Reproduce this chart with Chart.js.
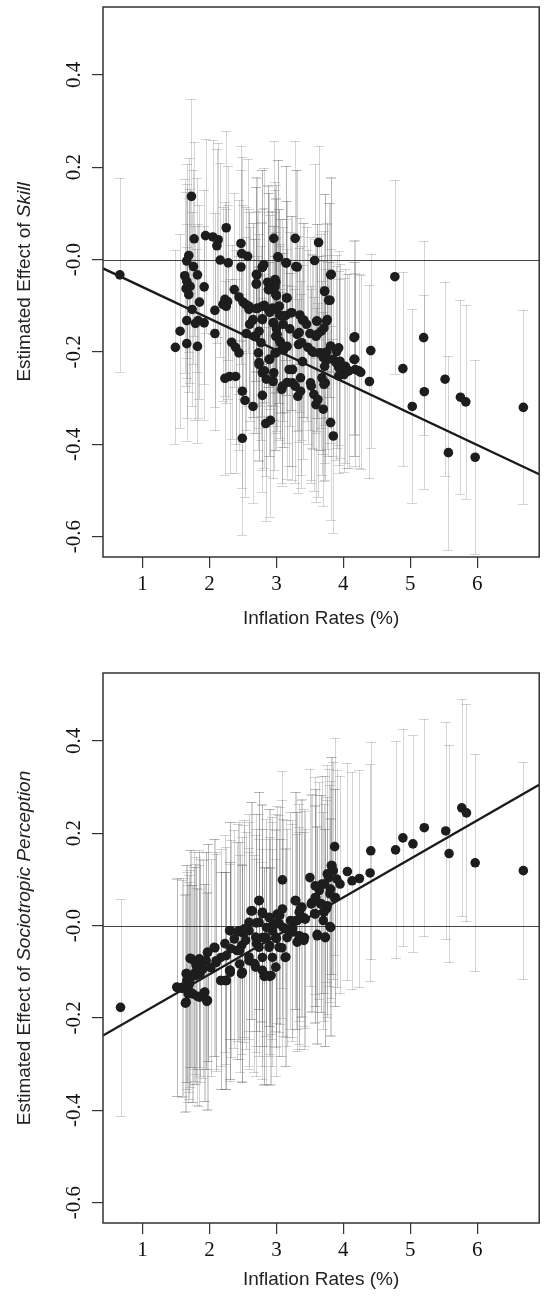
<!DOCTYPE html>
<html>
<head>
<meta charset="utf-8">
<script src="https://cdn.jsdelivr.net/npm/chart.js@4.4.0/dist/chart.umd.min.js"></script>
<style>
  html, body { margin: 0; padding: 0; background: #fff; }
  .panel { position: relative; width: 544px; height: 653px; }
</style>
</head>
<body>
<div class="panel"><canvas id="skillChart" width="544" height="653"></canvas></div>
<div class="panel"><canvas id="socioChart" width="544" height="653"></canvas></div>
<script>
// axes
const xTicks = [1, 2, 3, 4, 5, 6];
const yTicks = [-0.6, -0.4, -0.2, 0, 0.2, 0.4];
const yTickLabels = ['-0.6', '-0.4', '-0.2', '-0.0', '0.2', '0.4'];
const xRange = [0.408, 6.927];
const yRange = [-0.644, 0.547];

// top panel: effect of skill
const skillX = [0.66, 1.73, 1.77, 1.69, 1.66, 1.76, 1.82, 1.63, 1.66, 1.71, 1.65, 1.69, 1.92, 1.85, 1.74, 1.66, 1.83, 1.92,
  1.94, 2.05, 2.13, 2.11, 2.16, 2.25, 2.28, 2.08, 2.23, 2.20, 2.27, 2.25, 2.37, 2.47, 2.47, 2.48, 2.57, 2.44, 2.50, 2.54,
  2.59, 2.70, 2.65, 2.71, 2.70, 2.81, 2.79, 2.79, 2.79, 2.87, 2.88, 2.99, 2.98, 3.00, 2.96, 3.02, 2.88, 2.98, 3.04, 2.95,
  3.05, 3.14, 3.16, 3.14, 3.22, 3.28, 3.29, 3.41, 3.57, 3.63, 3.60, 3.72, 3.80, 3.81, 3.75, 4.77, 1.49, 1.56, 1.66, 1.82,
  1.79, 2.08, 2.33, 2.44, 2.39, 2.23, 2.30, 2.39, 2.49, 2.53, 2.65, 2.79, 2.49, 2.84, 2.91, 2.67, 2.73, 2.74, 2.79, 2.85,
  2.95, 2.90, 2.98, 3.01, 3.05, 3.08, 3.16, 3.08, 3.16, 3.24, 3.28, 3.32, 3.36, 3.31, 3.33, 3.39, 3.47, 3.55, 3.59, 3.67,
  3.52, 3.56, 3.62, 3.59, 3.70, 3.64, 3.70, 3.75, 3.72, 3.73, 3.81, 3.85, 3.85, 3.90, 3.95, 3.93, 4.01, 4.06, 4.16, 4.16,
  4.18, 4.26, 4.41, 4.39, 4.89, 5.03, 5.20, 5.21, 5.52, 5.57, 5.75, 5.83, 5.97, 6.69, 3.10, 3.20, 3.45, 3.50, 3.35, 3.00,
  2.60, 2.55,
  3.03, 3.15, 3.31, 3.82, 2.79, 2.70, 2.70, 2.88, 2.98, 2.89, 2.99, 3.15, 3.72, 3.78, 2.59, 2.72, 2.82, 2.94, 3.04, 2.90,
  3.09, 3.23, 2.65, 2.79, 2.96, 3.39, 3.61, 3.76, 3.71, 3.61, 3.34, 3.38, 2.74, 2.69, 2.77, 2.99, 3.06, 3.11, 2.99, 2.89,
  2.74, 2.82, 2.96, 3.19, 3.36, 3.51, 3.53, 3.66, 3.81, 3.93, 3.77, 3.89, 4.03, 4.08, 4.23, 4.17, 4.17, 3.68, 3.93, 3.24,
  3.71, 3.09];
const skillY = [-0.033, 0.137, 0.045, 0.009, -0.003, -0.015, -0.033, -0.035, -0.047, -0.058, -0.063, -0.076, -0.059, -0.092, -0.108, -0.132, -0.132, -0.137,
  0.052, 0.049, 0.043, 0.030, -0.001, 0.069, -0.007, -0.110, -0.086, -0.097, -0.091, -0.101, -0.065, -0.016, 0.035, 0.013, 0.007, -0.081, -0.092, -0.097,
  -0.108, -0.106, -0.131, -0.033, -0.053, -0.011, -0.017, -0.101, -0.128, -0.049, -0.065, -0.049, -0.059, -0.078, 0.046, 0.006, -0.108, -0.108, -0.101, -0.137,
  -0.121, -0.007, -0.083, -0.121, -0.115, 0.046, -0.015, -0.131, -0.002, 0.037, -0.133, -0.069, -0.088, -0.033, -0.133, -0.037, -0.190, -0.155, -0.182, -0.188,
  -0.138, -0.160, -0.179, -0.202, -0.190, -0.257, -0.253, -0.253, -0.285, -0.305, -0.318, -0.294, -0.387, -0.355, -0.348, -0.166, -0.202, -0.227, -0.245, -0.259,
  -0.264, -0.216, -0.202, -0.162, -0.177, -0.195, -0.188, -0.281, -0.266, -0.238, -0.274, -0.296, -0.285, -0.162, -0.184, -0.221, -0.190, -0.201, -0.166, -0.155,
  -0.274, -0.292, -0.303, -0.314, -0.324, -0.202, -0.212, -0.200, -0.231, -0.267, -0.353, -0.382, -0.216, -0.199, -0.220, -0.234, -0.249, -0.242, -0.169, -0.216,
  -0.238, -0.244, -0.197, -0.264, -0.236, -0.318, -0.169, -0.286, -0.259, -0.418, -0.298, -0.308, -0.428, -0.320, -0.140, -0.150, -0.140, -0.160, -0.120, -0.150,
  -0.140, -0.160,
  0.005, -0.007, -0.016, -0.032, -0.016, -0.032, -0.052, -0.050, -0.043, -0.065, -0.076, -0.083, -0.068, -0.088, -0.101, -0.105, -0.099, -0.105, -0.101, -0.114,
  -0.122, -0.115, -0.130, -0.130, -0.137, -0.131, -0.133, -0.130, -0.148, -0.162, -0.158, -0.180, -0.155, -0.166, -0.180, -0.166, -0.180, -0.195, -0.202, -0.216,
  -0.223, -0.241, -0.245, -0.238, -0.256, -0.267, -0.198, -0.202, -0.187, -0.191, -0.216, -0.223, -0.231, -0.241, -0.241, -0.216, -0.167, -0.256, -0.252, -0.267,
  -0.270, -0.274];
const skillCi = 0.21;
const skillFit = [0.009, -0.0684];

// bottom panel: effect of sociotropic perception
const socioX = [3.87, 4.41, 4.78, 4.89, 5.04, 5.21, 5.53, 5.58, 5.77, 5.84, 5.97, 6.69, 3.09, 3.50, 4.06, 4.40, 4.24, 4.13,
  3.82, 3.85, 3.78, 3.90, 3.72, 3.95, 3.64, 3.80, 3.59, 3.52, 3.67, 3.75, 3.87, 3.57, 3.70, 3.80, 3.61, 3.73, 3.28, 3.36,
  3.41, 3.31, 3.24, 3.33, 3.42, 2.74, 2.64, 2.79, 2.90, 3.00, 3.05, 3.10, 2.94, 2.85, 2.70, 2.59, 2.51, 2.44, 2.31, 2.79,
  3.00, 3.16, 2.70, 2.90, 3.08, 2.48, 2.41, 2.23, 2.08, 2.17, 2.31, 2.48, 2.59, 2.67, 2.79, 2.94, 3.13, 2.79, 2.85, 1.97,
  1.94, 1.85, 1.77, 1.71, 1.86, 2.02, 2.10, 1.66, 1.79, 2.23, 1.71, 0.67, 1.52, 1.59, 1.66, 1.69, 1.74, 1.65, 1.82, 1.92,
  1.96, 1.77, 1.86, 2.17, 2.25, 2.48, 2.82, 2.90, 2.31,
  3.83, 3.76, 3.68, 3.58, 3.81, 3.58, 3.53, 3.66, 3.76, 3.88, 3.71, 3.58, 3.29, 3.38, 3.34, 3.43, 3.29, 3.21, 3.09, 3.01,
  2.74, 2.62, 2.79, 2.89, 2.59, 2.74, 2.94, 3.04, 3.14, 3.24, 3.34, 3.41, 3.31, 3.61, 3.73, 3.81, 2.30, 2.42, 2.52, 2.37,
  2.54, 2.69, 2.84, 2.99, 2.74, 2.89, 3.04, 3.14, 2.99, 2.69, 2.82, 2.92, 2.49, 2.45, 2.59, 2.45, 2.32, 2.25, 2.30, 2.17,
  2.25, 2.10, 2.07, 1.97, 1.95, 1.85, 1.73, 1.80, 1.90, 1.65, 1.80, 1.51, 1.60, 1.70, 1.75, 1.68, 1.64, 1.93, 1.97, 1.85];
const socioY = [0.171, 0.162, 0.164, 0.190, 0.177, 0.212, 0.205, 0.156, 0.255, 0.244, 0.136, 0.119, 0.099, 0.104, 0.117, 0.114, 0.102, 0.097,
  0.130, 0.119, 0.104, 0.101, 0.090, 0.090, 0.076, 0.069, 0.060, 0.047, 0.047, 0.037, 0.060, 0.026, 0.011, -0.002, -0.019, -0.026, 0.054, 0.037,
  0.017, 0.011, -0.006, -0.032, -0.026, 0.054, 0.032, 0.026, 0.017, 0.006, 0.022, -0.004, -0.011, -0.004, 0.006, -0.011, -0.017, -0.011, -0.011, -0.026,
  -0.028, -0.026, -0.039, -0.043, -0.048, -0.043, -0.054, -0.039, -0.048, -0.069, -0.097, -0.104, -0.076, -0.082, -0.069, -0.069, -0.069, -0.097, -0.108, -0.058,
  -0.076, -0.076, -0.076, -0.071, -0.091, -0.091, -0.080, -0.104, -0.101, -0.119, -0.115, -0.177, -0.134, -0.136, -0.119, -0.140, -0.147, -0.166, -0.153, -0.145,
  -0.164, -0.108, -0.104, -0.119, -0.119, -0.104, -0.110, -0.110, -0.101,
  0.130, 0.112, 0.090, 0.086, 0.079, 0.061, 0.050, 0.047, 0.043, 0.061, 0.029, 0.025, 0.054, 0.040, 0.029, 0.014, 0.011, 0.011, 0.036, 0.025,
  0.054, 0.032, 0.029, 0.018, 0.007, 0.007, 0.000, 0.004, -0.007, -0.014, -0.022, -0.032, -0.036, -0.022, -0.025, -0.004, -0.011, -0.014, -0.007, -0.029,
  -0.032, -0.025, -0.025, -0.025, -0.047, -0.047, -0.047, -0.068, -0.090, -0.090, -0.108, -0.108, -0.101, -0.083, -0.068, -0.054, -0.050, -0.065, -0.097, -0.119,
  -0.119, -0.076, -0.047, -0.058, -0.076, -0.072, -0.072, -0.086, -0.094, -0.104, -0.108, -0.133, -0.133, -0.126, -0.148, -0.148, -0.168, -0.144, -0.162, -0.155];
const socioCi = 0.235;
const socioFit = [-0.272, 0.0833];

Chart.defaults.font.family = "'Liberation Sans', Arial, sans-serif";
Chart.defaults.color = '#222';

const panelDecor = {
  id: 'panelDecor',
  beforeDatasetsDraw(chart, args, opts) {
    const { ctx, chartArea: a, scales: { x, y } } = chart;
    ctx.save();
    ctx.beginPath();
    ctx.rect(a.left, a.top, a.right - a.left, a.bottom - a.top);
    ctx.clip();
    // confidence intervals
    ctx.strokeStyle = 'rgba(110,110,110,0.6)';
    ctx.lineWidth = 1;
    ctx.setLineDash([1, 1]);
    opts.xs.forEach((v, i) => {
      const px = Math.round(x.getPixelForValue(v)) + 0.5;
      const top = Math.round(y.getPixelForValue(opts.ys[i] + opts.ci)) + 0.5;
      const bot = Math.round(y.getPixelForValue(opts.ys[i] - opts.ci)) + 0.5;
      ctx.beginPath();
      ctx.moveTo(px, top); ctx.lineTo(px, bot);
      ctx.moveTo(px - 5, top); ctx.lineTo(px + 5, top);
      ctx.moveTo(px - 5, bot); ctx.lineTo(px + 5, bot);
      ctx.stroke();
    });
    ctx.setLineDash([]);
    // zero reference line
    const zy = Math.round(y.getPixelForValue(0)) + 0.5;
    ctx.strokeStyle = '#444';
    ctx.lineWidth = 1;
    ctx.beginPath();
    ctx.moveTo(a.left, zy); ctx.lineTo(a.right, zy);
    ctx.stroke();
    ctx.restore();
  },
  afterDraw(chart, args, opts) {
    const { ctx, chartArea: a, scales: { y } } = chart;
    ctx.save();
    // box
    ctx.strokeStyle = '#333';
    ctx.lineWidth = 1.5;
    ctx.strokeRect(a.left, a.top, a.right - a.left, a.bottom - a.top);
    // y tick labels, rotated like R's default
    ctx.fillStyle = '#111';
    ctx.font = "21px 'Liberation Serif', 'Times New Roman', serif";
    ctx.textAlign = 'center';
    ctx.textBaseline = 'middle';
    yTicks.forEach((v, i) => {
      ctx.save();
      ctx.translate(74, y.getPixelForValue(v));
      ctx.rotate(-Math.PI / 2);
      ctx.fillText(yTickLabels[i], 0, 0);
      ctx.restore();
    });
    // y title with italic variable name
    const plain = "19px 'Liberation Sans', Arial, sans-serif";
    const ital = "italic 19px 'Liberation Sans', Arial, sans-serif";
    ctx.font = plain;
    const w1 = ctx.measureText(opts.titleStart).width;
    ctx.font = ital;
    const w2 = ctx.measureText(opts.titleVar).width;
    ctx.translate(25, (a.top + a.bottom) / 2);
    ctx.rotate(-Math.PI / 2);
    ctx.textAlign = 'left';
    ctx.fillStyle = '#222';
    ctx.font = plain;
    ctx.fillText(opts.titleStart, -(w1 + w2) / 2, 0);
    ctx.font = ital;
    ctx.fillText(opts.titleVar, -(w1 + w2) / 2 + w1, 0);
    ctx.restore();
  }
};

function makePanel(id, xs, ys, ci, fit, titleVar, padTop, xHeight, titlePadBottom) {
  const points = xs.map((v, i) => ({ x: v, y: ys[i] }));
  const fitLine = xRange.map(v => ({ x: v, y: fit[0] + fit[1] * v }));
  return new Chart(document.getElementById(id), {
    type: 'scatter',
    data: {
      datasets: [
        {
          data: points,
          backgroundColor: '#1d1d1d',
          borderWidth: 0,
          pointRadius: 4.8,
          pointHoverRadius: 4.8
        },
        {
          type: 'line',
          data: fitLine,
          borderColor: '#1a1a1a',
          borderWidth: 2.4,
          pointRadius: 0,
          fill: false
        }
      ]
    },
    options: {
      responsive: false,
      animation: false,
      devicePixelRatio: 1,
      layout: { padding: { top: padTop, right: 2, bottom: 0, left: 0 } },
      plugins: {
        legend: { display: false },
        tooltip: { enabled: false },
        panelDecor: { xs: xs, ys: ys, ci: ci, titleStart: 'Estimated Effect of ', titleVar: titleVar }
      },
      scales: {
        x: {
          type: 'linear',
          min: xRange[0],
          max: xRange[1],
          afterBuildTicks: s => { s.ticks = xTicks.map(v => ({ value: v })); },
          afterFit: s => { s.height = xHeight; },
          border: { display: false },
          grid: { drawOnChartArea: false, tickLength: 11, color: '#333', lineWidth: 1.2 },
          ticks: {
            color: '#111',
            padding: 4,
            maxRotation: 0,
            font: { family: "'Liberation Serif', 'Times New Roman', serif", size: 21 }
          },
          title: {
            display: true,
            text: 'Inflation Rates (%)',
            color: '#222',
            font: { size: 19 },
            padding: { top: 10, bottom: titlePadBottom }
          }
        },
        y: {
          min: yRange[0],
          max: yRange[1],
          afterBuildTicks: s => { s.ticks = yTicks.map(v => ({ value: v })); },
          afterFit: s => { s.width = 103; },
          border: { display: false },
          grid: { drawOnChartArea: false, tickLength: 11, color: '#333', lineWidth: 1.2 },
          ticks: { display: false }
        }
      }
    },
    plugins: [panelDecor]
  });
}

makePanel('skillChart', skillX, skillY, skillCi, skillFit, 'Skill', 7, 96, 23);
makePanel('socioChart', socioX, socioY, socioCi, socioFit, 'Sociotropic Perception', 20, 83, 15);
</script>
</body>
</html>
